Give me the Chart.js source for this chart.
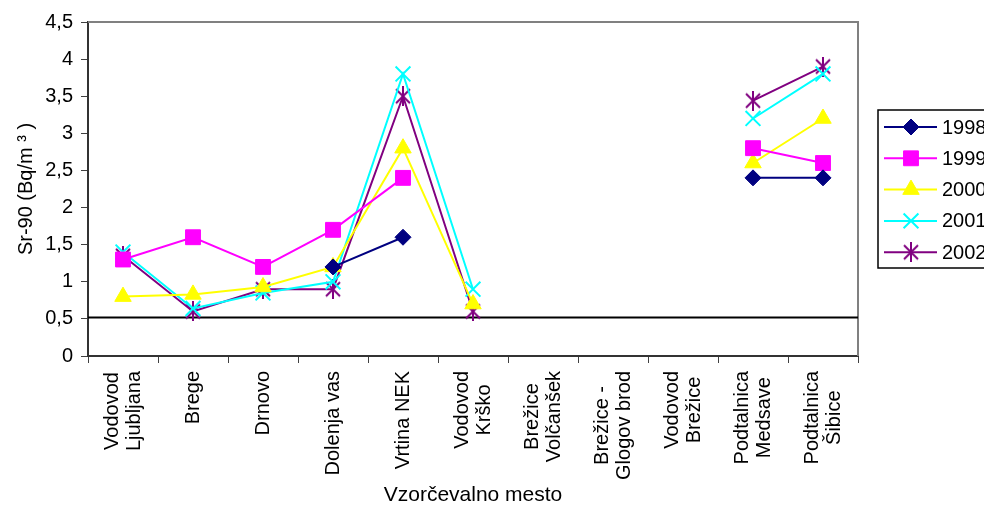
<!DOCTYPE html>
<html>
<head>
<meta charset="utf-8">
<script src="https://cdn.jsdelivr.net/npm/chart.js@4.4.1/dist/chart.umd.min.js"></script>
<style>
    html, body { margin: 0; padding: 0; background: #fff; }
    #wrap { width: 984px; height: 508px; position: relative; }
</style>
</head>
<body>
<div id="wrap"><canvas id="chart"></canvas></div>
<script>
// sampling sites
const sites = [
    ["Vodovod", "Ljubljana"], "Brege", "Drnovo", "Dolenja vas", "Vrtina NEK",
    ["Vodovod", "Krško"], ["Brežice", "Volčanšek"], ["Brežice -", "Glogov brod"],
    ["Vodovod", "Brežice"], ["Podtalnica", "Medsave"], ["Podtalnica", "Šibice"]
];

// Sr-90 in Bq/m3 per year, null = no sample
const sr1998 = [null, null, null, 1.2, 1.6, null, null, null, null, 2.4, 2.4];
const sr1999 = [1.3, 1.6, 1.2, 1.7, 2.4, null, null, null, null, 2.8, 2.6];
const sr2000 = [0.8, 0.83, 0.93, 1.2, 2.8, 0.7, null, null, null, 2.6, 3.2];
const sr2001 = [1.4, 0.64, 0.85, 1.0, 3.8, 0.9, null, null, null, 3.2, 3.8];
const sr2002 = [1.35, 0.6, 0.9, 0.9, 3.5, 0.6, null, null, null, 3.44, 3.9];

const yearLabels = ["1998", "1999", "2000", "2001", "2002"];
const yTickLabels = ["0", "0,5", "1", "1,5", "2", "2,5", "3", "3,5", "4", "4,5"];
const limitValue = 0.52;

const FONT = "'Liberation Sans', Arial, sans-serif";

// excel style asterisk marker (x with a vertical bar)
function makeStar(color) {
    const c = document.createElement("canvas");
    c.width = 20; c.height = 20;
    const g = c.getContext("2d");
    g.strokeStyle = color;
    g.lineWidth = 2;
    g.beginPath();
    g.moveTo(3, 3); g.lineTo(17, 17);
    g.moveTo(17, 3); g.lineTo(3, 17);
    g.moveTo(10, 0); g.lineTo(10, 20);
    g.stroke();
    return c;
}

function series(label, data, color, style, radius, borderW) {
    return {
        label: label,
        data: data,
        borderColor: color,
        backgroundColor: color,
        pointBackgroundColor: color,
        pointBorderColor: color,
        pointStyle: style,
        pointRadius: radius,
        pointHoverRadius: radius,
        pointBorderWidth: borderW,
        borderWidth: 2,
        tension: 0,
        spanGaps: false
    };
}

const datasets = [
    series(yearLabels[0], sr1998, "#000080", "rectRot", 8, 1),
    series(yearLabels[1], sr1999, "#FF00FF", "rect", 10.5, 1),
    series(yearLabels[2], sr2000, "#FFFF00", "triangle", 9.5, 1),
    series(yearLabels[3], sr2001, "#00FFFF", "crossRot", 10.5, 2),
    series(yearLabels[4], sr2002, "#800080", makeStar("#800080"), 10, 1)
];

// frame on top/right + horizontal limit line
const framePlugin = {
    id: "frame",
    beforeDatasetsDraw(chart) {
        const ctx = chart.ctx;
        const a = chart.chartArea;
        const y = chart.scales.y.getPixelForValue(limitValue);
        ctx.save();
        ctx.strokeStyle = "#808080";
        ctx.lineWidth = 2;
        ctx.beginPath();
        ctx.moveTo(a.left, a.top);
        ctx.lineTo(a.right, a.top);
        ctx.lineTo(a.right, a.bottom);
        ctx.stroke();
        ctx.strokeStyle = "#000";
        ctx.lineWidth = 2;
        ctx.beginPath();
        ctx.moveTo(a.left, y);
        ctx.lineTo(a.right, y);
        ctx.stroke();
        ctx.restore();
    }
};

// boxed legend at the right, like the original (runs off the edge)
const legendPlugin = {
    id: "boxLegend",
    afterDraw(chart) {
        const ctx = chart.ctx;
        const left = 878, top = 110, rowH = 31.3;
        ctx.save();
        ctx.strokeStyle = "#000";
        ctx.lineWidth = 1.5;
        ctx.strokeRect(left, top, 140, 158);
        chart.data.datasets.forEach((ds, i) => {
            const y = top + 17 + i * rowH;
            ctx.strokeStyle = ds.borderColor;
            ctx.lineWidth = 2;
            ctx.beginPath();
            ctx.moveTo(884, y);
            ctx.lineTo(937, y);
            ctx.stroke();
            ctx.fillStyle = ds.pointBackgroundColor;
            ctx.strokeStyle = ds.pointBorderColor;
            ctx.lineWidth = ds.pointBorderWidth;
            Chart.helpers.drawPoint(ctx, {
                pointStyle: ds.pointStyle,
                radius: ds.pointRadius,
                borderWidth: ds.pointBorderWidth,
                rotation: 0
            }, 911, y);
            ctx.fillStyle = "#000";
            ctx.font = "20px " + FONT;
            ctx.textBaseline = "middle";
            ctx.textAlign = "left";
            ctx.fillText(ds.label, 942, y + 1);
        });
        ctx.restore();
    }
};

// rotated multi-line category labels: centre the block on the tick and
// centre each line inside it (Excel style) instead of right aligning all lines
function centreMultiLineLabels(scale) {
    if (scale._centrePatched || typeof scale._computeLabelItems !== "function") return;
    const orig = scale._computeLabelItems.bind(scale);
    scale._computeLabelItems = function (chartArea) {
        const items = orig(chartArea);
        const ctx = scale.ctx;
        const out = [];
        items.forEach(item => {
            if (!Array.isArray(item.label) || item.label.length < 2) {
                out.push(item);
                return;
            }
            ctx.save();
            ctx.font = item.font.string;
            const widths = item.label.map(l => ctx.measureText(l).width);
            ctx.restore();
            const maxW = Math.max.apply(null, widths);
            const lh = item.font.lineHeight;
            const n = item.label.length;
            item.label.forEach((line, j) => {
                const t = item.options.translation;
                out.push({
                    label: line,
                    font: item.font,
                    textOffset: item.textOffset + j * lh,
                    options: Object.assign({}, item.options, {
                        translation: [t[0] - (n - 1) * lh / 2, t[1] + (maxW - widths[j]) / 2]
                    })
                });
            });
        });
        return out;
    };
    scale._centrePatched = true;
}

new Chart(document.getElementById("chart"), {
    type: "line",
    data: { labels: sites, datasets: datasets },
    plugins: [framePlugin, legendPlugin],
    options: {
        responsive: true,
        maintainAspectRatio: false,
        animation: false,
        devicePixelRatio: 1,
        layout: { padding: { left: 0, right: 126, top: 22, bottom: 0 } },
        plugins: {
            legend: { display: false },
            tooltip: { enabled: false }
        },
        scales: {
            x: {
                type: "category",
                offset: true,
                afterFit(scale) { scale.height = 152; },
                afterUpdate: centreMultiLineLabels,
                grid: {
                    display: true,
                    offset: true,
                    drawOnChartArea: false,
                    drawTicks: true,
                    tickLength: 7,
                    color: "#404040",
                    lineWidth: 1
                },
                border: { display: true, color: "#333", width: 2 },
                ticks: {
                    autoSkip: false,
                    maxRotation: 90,
                    minRotation: 90,
                    padding: 8,
                    color: "#000",
                    font: { family: FONT, size: 20, lineHeight: 1.1 }
                },
                title: {
                    display: true,
                    text: "Vzorčevalno mesto",
                    color: "#000",
                    font: { family: FONT, size: 21 },
                    padding: { top: 0, bottom: 0 }
                }
            },
            y: {
                min: 0,
                max: 4.5,
                afterFit(scale) { scale.width = 88; },
                ticks: {
                    stepSize: 0.5,
                    padding: 8,
                    color: "#000",
                    font: { family: FONT, size: 20 },
                    callback: (v, i) => yTickLabels[i]
                },
                grid: {
                    display: true,
                    drawOnChartArea: false,
                    drawTicks: true,
                    tickLength: 7,
                    color: "#404040"
                },
                border: { display: true, color: "#333", width: 2 },
                title: {
                    display: true,
                    text: "Sr-90 (Bq/m ³ )",
                    color: "#000",
                    font: { family: FONT, size: 20 },
                    padding: { top: 14, bottom: 0 }
                }
            }
        }
    }
});
</script>
</body>
</html>
